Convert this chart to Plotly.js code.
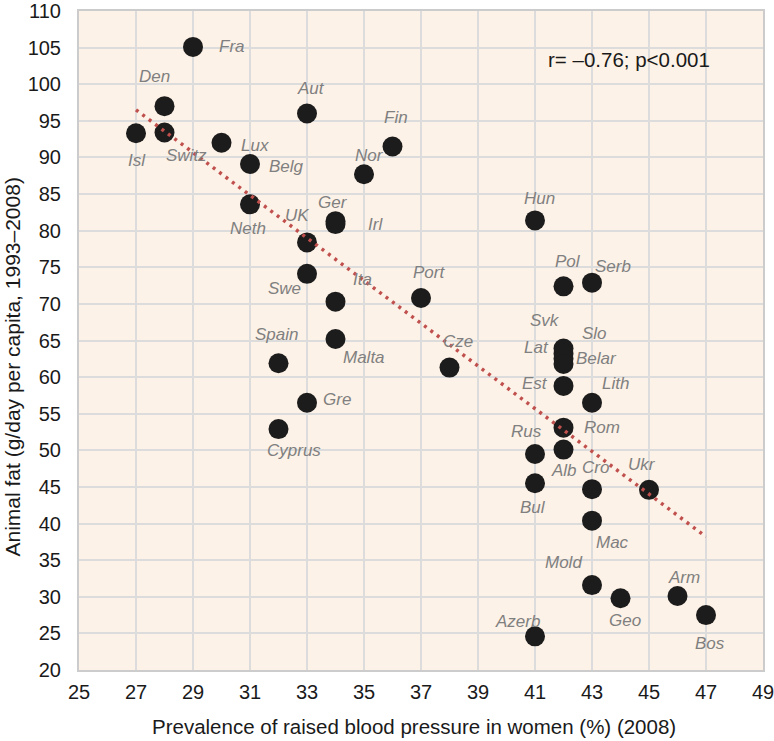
<!DOCTYPE html>
<html>
<head>
<meta charset="utf-8">
<script src="https://cdn.plot.ly/plotly-3.0.1.min.js"></script>
<style>html,body{margin:0;padding:0;background:#fff;}#chart{width:774px;height:741px;}</style>
</head>
<body>
<div id="chart"></div>
<script>
// Data
const countries = ["Fra","Den","Isl","Switz","Lux","Belg","Neth","Aut","Fin","Nor","Ger","Irl","UK",
  "Swe","Ita","Malta","Spain","Gre","Cyprus","Port","Hun","Pol","Serb","Cze","Svk","Slo","Lat","Belar",
  "Est","Lith","Rom","Rus","Alb","Cro","Ukr","Bul","Mac","Mold","Geo","Arm","Bos","Azerb"];
const bloodPressure = [29,28,27,28,30,31,31,33,36,35,34,34,33,
  33,34,34,32,33,32,37,41,42,43,38,42,42,42,42,
  42,43,42,41,42,43,45,41,43,43,44,46,47,41];
const animalFat = [105.1,97.0,93.3,93.4,92.0,89.1,83.6,96.0,91.5,87.7,81.3,80.9,78.4,
  74.1,70.3,65.2,61.9,56.5,52.9,70.8,81.4,72.4,72.9,61.3,63.9,63.2,62.5,61.8,
  58.8,56.5,53.1,49.5,50.1,44.7,44.6,45.5,40.4,31.6,29.8,30.1,27.5,24.6];
const trendX = [27, 47];
const trendY = [96.5, 38.2];
const statText = "r= \u20130.76; p<0.001";
const xTitle = "Prevalence of raised blood pressure in women (%) (2008)";
const yTitle = "Animal fat (g/day per capita, 1993\u20132008)";

// Label offsets (pixels, label centre relative to point centre; +dy = down)
const labelDx = [39,-10,1,22,33,36,-2,4,3,5,-3,40,-10,
  -23,27,28,-2,30,15,8,4,4,21,8,-19,31,-27,33,
  -29,23,38,-9,0,3,-7,-2,20,-29,4,6,4,-18];
const labelDy = [0,-30,27,23,3,2,24,-25,-29,-19,-19,0,-27,
  15,-22,18,-29,-3,21,-26,-22,-25,-16,-26,-28,-20,-11,-5,
  -2,-19,0,-22,21,-22,-25,24,22,-23,22,-19,28,-15];

const FONT = 'Liberation Sans, Arial, sans-serif';

const traces = [
  {
    x: bloodPressure, y: animalFat, type: 'scatter', mode: 'markers',
    marker: {color: '#1c1c1c', size: 20, line: {width: 0}},
    text: countries, showlegend: false
  },
  {
    x: trendX, y: trendY, type: 'scatter', mode: 'lines',
    line: {color: '#c0504d', width: 3.5, dash: '3px,5px'},
    hoverinfo: 'skip', showlegend: false
  }
];

const annotations = countries.map((c, i) => ({
  x: bloodPressure[i], y: animalFat[i], xref: 'x', yref: 'y',
  text: c, showarrow: false, xanchor: 'center', yanchor: 'middle',
  xshift: labelDx[i], yshift: -labelDy[i],
  font: {family: FONT, size: 17, color: '#808080', style: 'italic'}
}));
annotations.push({
  x: 41.4, y: 103.4, xref: 'x', yref: 'y', text: statText, showarrow: false,
  xanchor: 'left', yanchor: 'middle',
  font: {family: FONT, size: 20.5, color: '#1a1a1a'}
});
// axis titles
annotations.push({
  x: 0.49, y: -0.086, xref: 'paper', yref: 'paper', text: xTitle, showarrow: false,
  xanchor: 'center', yanchor: 'middle',
  font: {family: FONT, size: 20.5, color: '#1a1a1a'}
});
annotations.push({
  x: -0.097, y: 0.46, xref: 'paper', yref: 'paper', text: yTitle, showarrow: false,
  xanchor: 'center', yanchor: 'middle', textangle: -90,
  font: {family: FONT, size: 21, color: '#1a1a1a'}
});

const axisCommon = {
  showgrid: true, gridcolor: '#dcdcdc', gridwidth: 2,
  showline: true, linecolor: '#cccccc', linewidth: 2, mirror: true,
  zeroline: false, ticks: '', ticklabeloverflow: 'allow',
  tickfont: {family: FONT, size: 20, color: '#1a1a1a'}
};

const layout = {
  width: 774, height: 741,
  margin: {l: 79, r: 11, t: 11, b: 71},
  paper_bgcolor: '#ffffff', plot_bgcolor: '#fdf2e7',
  font: {family: FONT, color: '#1a1a1a'},
  xaxis: Object.assign({}, axisCommon, {
    range: [25, 49], dtick: 2, tick0: 25, ticklabelstandoff: 3
  }),
  yaxis: Object.assign({}, axisCommon, {
    range: [20, 110], dtick: 5, tick0: 20, ticklabelstandoff: 12
  }),
  annotations: annotations,
  showlegend: false
};

Plotly.newPlot('chart', traces, layout, {displayModeBar: false, staticPlot: true});
</script>
</body>
</html>
